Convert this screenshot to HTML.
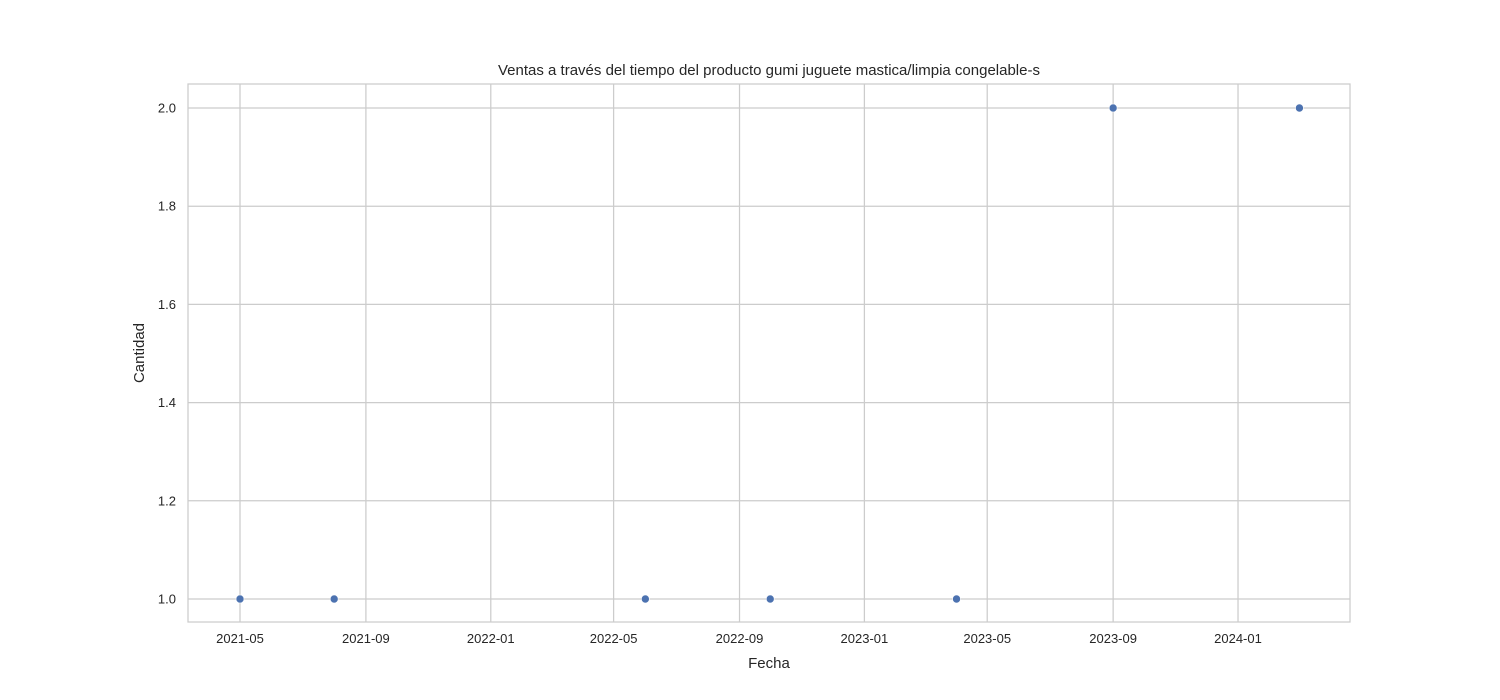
<!DOCTYPE html>
<html><head><meta charset="utf-8">
<style>
body{margin:0;background:#fff;}
svg{display:block;font-family:"Liberation Sans",Arial,sans-serif;}
</style></head>
<body>
<svg id="chart" width="1500" height="700">
<rect x="0" y="0" width="1500" height="700" fill="#fff"/>
<g id="grid"></g>
<g id="ticks"></g>
<rect x="188" y="84" width="1162" height="538" fill="none" stroke="#ccc" stroke-width="1.25"/>
<g id="points"></g>
<text x="769" y="75" text-anchor="middle" font-size="15" fill="#262626">Ventas a través del tiempo del producto gumi juguete mastica/limpia congelable-s</text>
<text x="769" y="668" text-anchor="middle" font-size="15" fill="#262626">Fecha</text>
<text x="144" y="353" text-anchor="middle" font-size="15" fill="#262626" transform="rotate(-90 144 353)">Cantidad</text>
</svg>
<script>
const xTickLabels=["2021-05","2021-09","2022-01","2022-05","2022-09","2023-01","2023-05","2023-09","2024-01"];
const yTickValues=[1.0,1.2,1.4,1.6,1.8,2.0];
const pointDates=["2021-05-01","2021-08-01","2022-06-01","2022-10-01","2023-04-01","2023-09-01","2024-03-01"];
const pointValues=[1,1,1,1,1,2,2];

const NS="http://www.w3.org/2000/svg";
const t0=Date.UTC(2021,4,1), DAY=86400000, PXD=1.0236;
function xs(s){const p=s.split("-").map(Number);const t=Date.UTC(p[0],p[1]-1,p[2]||1);return 240+(t-t0)/DAY*PXD;}
function ys(v){return 599-(v-1)*491;}
function mk(tag,attrs,parent){const e=document.createElementNS(NS,tag);for(const k in attrs)e.setAttribute(k,attrs[k]);parent.appendChild(e);return e;}
const grid=document.getElementById("grid"),ticks=document.getElementById("ticks"),pts=document.getElementById("points");
xTickLabels.forEach(l=>{
  const x=xs(l+"-01");
  const g=mk("line",{x1:x,x2:x,y1:84,y2:622,stroke:"#ccc","stroke-width":1.25},grid);
  
  
  const t=mk("text",{x:x,y:643,"text-anchor":"middle","font-size":13,fill:"#262626"},ticks);
  t.textContent=l;
  
  
});
yTickValues.forEach(v=>{
  const y=ys(v);
  const g=mk("line",{x1:188,x2:1350,y1:y,y2:y,stroke:"#ccc","stroke-width":1.25},grid);
  
  
  const t=mk("text",{x:176,y:y+4.5,"text-anchor":"end","font-size":13,fill:"#262626"},ticks);
  t.textContent=v.toFixed(1);
  
  
});
pointDates.forEach((d,i)=>{
  const c=mk("circle",{cx:xs(d),cy:ys(pointValues[i]),r:4,fill:"#4c72b0",stroke:"#fff","stroke-width":0.6},pts);
  
  
});
</script>
</body></html>
